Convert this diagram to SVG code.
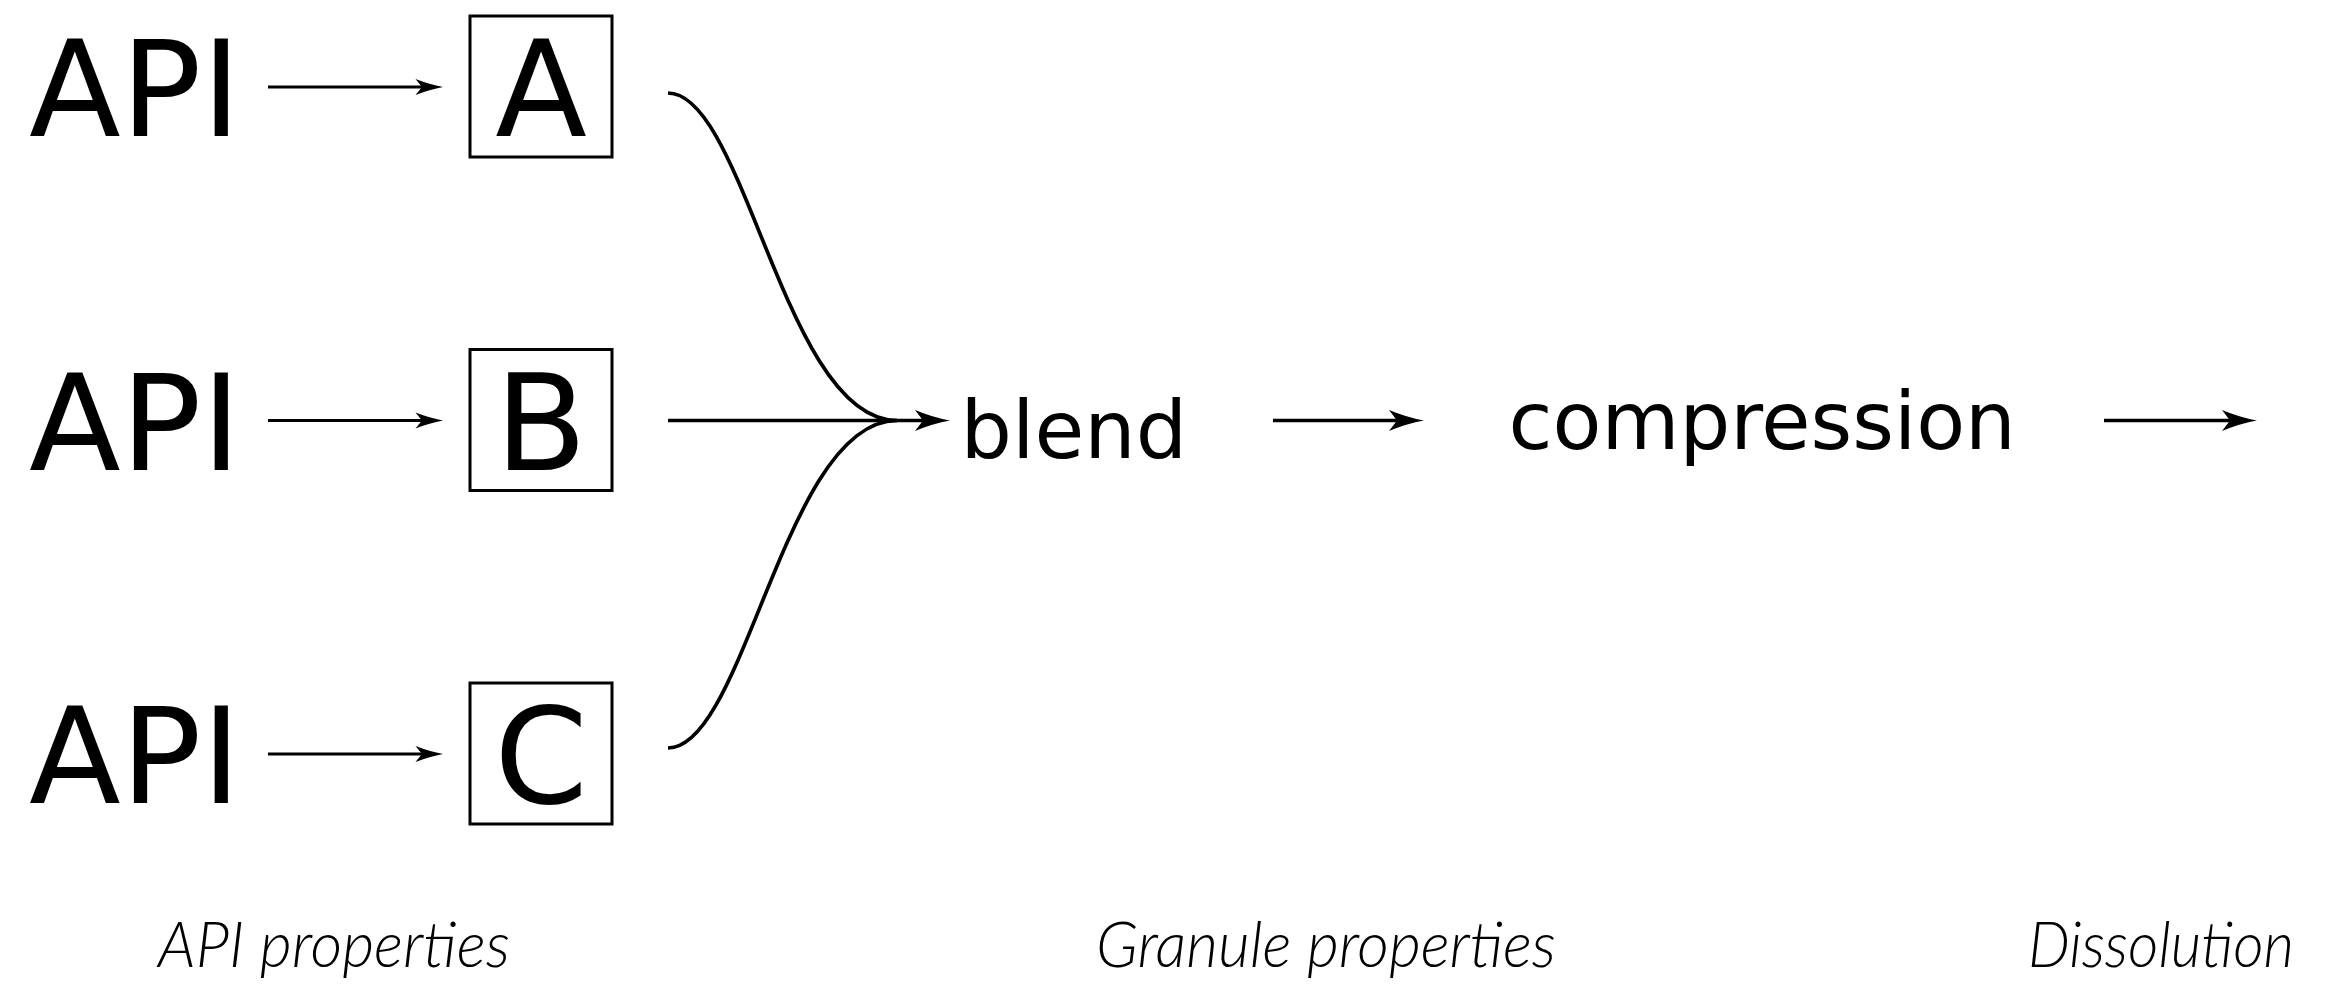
<svg xmlns="http://www.w3.org/2000/svg" width="2333" height="1000" viewBox="0 0 2333 1000">
<style>
  .big { font-family: "DejaVu Sans", sans-serif; font-size: 134px; fill: #000; }
  .mid { font-family: "DejaVu Sans", sans-serif; fill: #000; }
  .lbl { font-family: "Lato", "Open Sans", sans-serif; font-style: italic; font-weight: 300; font-size: 64px; fill: #000; }
  .box { fill: none; stroke: #000; stroke-width: 3; }
  .thin { fill: none; stroke: #000; stroke-width: 2.8; }
  .thick { fill: none; stroke: #000; stroke-width: 3.7; }
</style>
<defs>
  <marker id="arrS" viewBox="-9 -9 30 18" refX="0" refY="0" markerWidth="30" markerHeight="18" markerUnits="userSpaceOnUse" orient="auto" overflow="visible">
    <path d="M21,0 Q8,-2.4 -6.5,-8 L0,0 L-6.5,8 Q8,2.4 21,0 Z" fill="#000"/>
  </marker>
  <marker id="arrL" viewBox="-9 -11 38 22" refX="0" refY="0" markerWidth="38" markerHeight="22" markerUnits="userSpaceOnUse" orient="auto" overflow="visible">
    <path d="M27,0 Q10,-3 -8,-10.5 L0,0 L-8,10.5 Q10,3 27,0 Z" fill="#000"/>
  </marker>
</defs>
<rect x="0" y="0" width="2333" height="1000" fill="#fff"/>

<g id="api1"><text class="big" x="29" y="136">API</text></g>
<g id="api2"><text class="big" x="29" y="469.5">API</text></g>
<g id="api3"><text class="big" x="29" y="803">API</text></g>

<g id="boxA"><rect class="box" x="470" y="16" width="142" height="141"/><text class="big" x="541" y="136" text-anchor="middle">A</text></g>
<g id="boxB"><rect class="box" x="470" y="349.5" width="142" height="141"/><text class="big" x="541" y="469.5" text-anchor="middle">B</text></g>
<g id="boxC"><rect class="box" x="470" y="683" width="142" height="141"/><text class="big" x="541" y="803" text-anchor="middle">C</text></g>

<g id="blend"><text class="mid" x="960.6" y="458" font-size="81">blend</text></g>
<g id="compression"><text class="mid" x="1508.6" y="449" font-size="80">compression</text></g>

<g id="labels">
  <text id="lbl-api" class="lbl" x="158" y="967" textLength="352" lengthAdjust="spacingAndGlyphs">API properties</text>
  <text id="lbl-granule" class="lbl" x="1096" y="967" textLength="460" lengthAdjust="spacingAndGlyphs">Granule properties</text>
  <text id="lbl-dissolution" class="lbl" x="2028" y="967" textLength="266" lengthAdjust="spacingAndGlyphs">Dissolution</text>
</g>

<g id="connectors">
  <line class="thin" x1="268" y1="87" x2="422" y2="87" marker-end="url(#arrS)"/>
  <line class="thin" x1="268" y1="420.5" x2="422" y2="420.5" marker-end="url(#arrS)"/>
  <line class="thin" x1="268" y1="754" x2="422" y2="754" marker-end="url(#arrS)"/>
  <path class="thick" d="M668,93 C745,93 785,420.5 897,420.5"/>
  <path class="thick" d="M668,748 C745,748 785,420.5 897,420.5"/>
  <line class="thick" x1="668" y1="420.5" x2="923" y2="420.5" marker-end="url(#arrL)"/>
  <line class="thick" x1="1273" y1="420.5" x2="1397" y2="420.5" marker-end="url(#arrL)"/>
  <line class="thick" x1="2104" y1="420.5" x2="2230" y2="420.5" marker-end="url(#arrL)"/>
</g>
</svg>
